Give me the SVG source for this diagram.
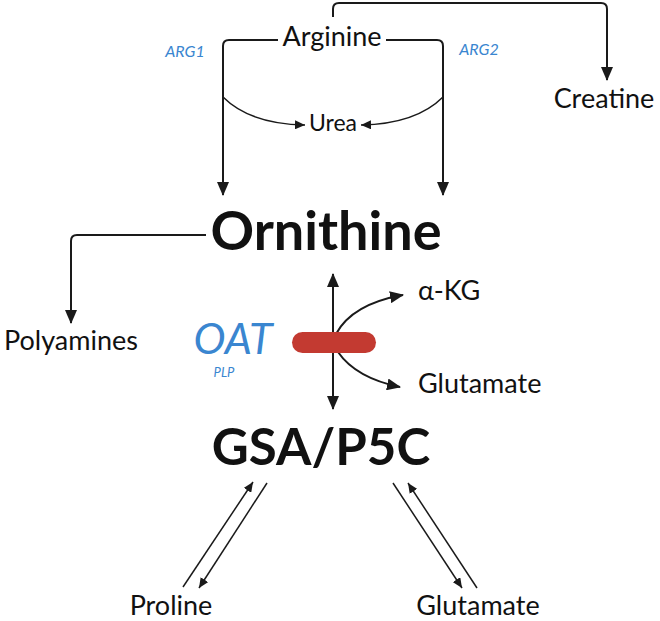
<svg xmlns="http://www.w3.org/2000/svg" width="660" height="621" viewBox="0 0 660 621">
<style>
text{font-family:Lato,"Open Sans",sans-serif;fill:#111}
.n{font-size:27px}
.big{font-weight:bold}
.enz{fill:#3a86d0;font-style:italic}
.ln{fill:none;stroke:#1a1a1a;stroke-width:2}
.th{fill:none;stroke:#1a1a1a;stroke-width:1.5}
</style>
<defs>
<marker id="ahL" markerWidth="14" markerHeight="12" refX="13" refY="6" orient="auto" markerUnits="userSpaceOnUse"><path d="M0,0L14,6L0,12z" fill="#1a1a1a"/></marker>
<marker id="ahS" markerWidth="10" markerHeight="9" refX="10" refY="4.5" orient="auto" markerUnits="userSpaceOnUse"><path d="M0,0L10,4.5L0,9z" fill="#1a1a1a"/></marker>
</defs>
<g id="connectors">
<path class="ln" d="M278,40H229Q223,40 223,46V195" marker-end="url(#ahL)"/>
<path class="ln" d="M386,40H437Q443,40 443,46V195" marker-end="url(#ahL)"/>
<path class="ln" d="M333,17V9Q333,3 339,3H601Q607,3 607,9V80" marker-end="url(#ahL)"/>
<path class="th" d="M223,97Q250,124 305,125" marker-end="url(#ahS)"/>
<path class="th" d="M443,97Q416,124 361,125" marker-end="url(#ahS)"/>
<path class="ln" d="M206,235H77Q71,235 71,241V323" marker-end="url(#ahL)"/>
<path class="ln" d="M333,340V274" marker-end="url(#ahL)"/>
<path class="ln" d="M333,340V409" marker-end="url(#ahL)"/>
<path class="ln" d="M336,334Q352,304 403,295" marker-end="url(#ahL)"/>
<path class="ln" d="M338,352Q356,378 400,387" marker-end="url(#ahL)"/>
<path class="th" d="M183,587L253,482" marker-end="url(#ahS)"/>
<path class="th" d="M267,483L199,588" marker-end="url(#ahS)"/>
<path class="th" d="M393,483L462,588" marker-end="url(#ahS)"/>
<path class="th" d="M477,588L408,483" marker-end="url(#ahS)"/>
</g>
<g id="oat-bar"><rect x="292" y="332" width="84" height="21" rx="10.5" fill="#c33a31"/></g>
<g id="arginine"><text class="n" x="332" y="46" text-anchor="middle">Arginine</text></g>
<g id="arg1"><text class="enz" x="185" y="57" font-size="16" text-anchor="middle">ARG1</text></g>
<g id="arg2"><text class="enz" x="479" y="55" font-size="16" text-anchor="middle">ARG2</text></g>
<g id="urea"><text x="333" y="131" font-size="23" text-anchor="middle">Urea</text></g>
<g id="creatine"><text class="n" x="604" y="108" text-anchor="middle">Creatine</text></g>
<g id="ornithine"><text class="big" x="326" y="250" font-size="54" text-anchor="middle">Ornithine</text></g>
<g id="polyamines"><text class="n" x="71" y="350" text-anchor="middle">Polyamines</text></g>
<g id="oat"><text class="enz" x="233" y="354" font-size="43" text-anchor="middle">OAT</text><text class="enz" x="224" y="377" font-size="13" text-anchor="middle">PLP</text></g>
<g id="akg"><text class="n" x="418" y="300">α-KG</text></g>
<g id="glutamate1"><text class="n" x="418" y="393">Glutamate</text></g>
<g id="gsa"><text class="big" x="321" y="465" font-size="51" text-anchor="middle">GSA/P5C</text></g>
<g id="proline"><text class="n" x="171" y="615" text-anchor="middle">Proline</text></g>
<g id="glutamate2"><text class="n" x="478" y="615" text-anchor="middle">Glutamate</text></g>
</svg>
